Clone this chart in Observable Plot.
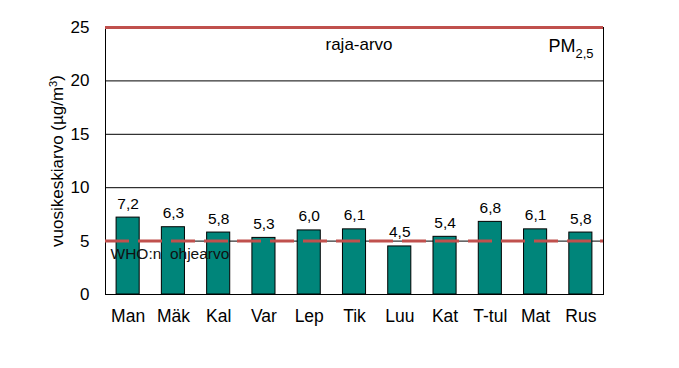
<!DOCTYPE html>
<html>
<head>
<meta charset="utf-8">
<script src="https://cdn.jsdelivr.net/npm/d3@7"></script>
<script src="https://cdn.jsdelivr.net/npm/@observablehq/plot@0.6"></script>
<style>
  html, body { margin: 0; padding: 0; background: #fff; }
  svg { font-family: "Liberation Sans", Arial, sans-serif; }
</style>
</head>
<body>
<div id="chart"></div>
<script>
const stations = ["Man", "Mäk", "Kal", "Var", "Lep", "Tik", "Luu", "Kat", "T-tul", "Mat", "Rus"];
const values = [7.2, 6.3, 5.8, 5.3, 6.0, 6.1, 4.5, 5.4, 6.8, 6.1, 5.8];
const yTicks = [0, 5, 10, 15, 20, 25];
const gridLines = [5, 10, 15, 20];
const limitValue = [25];
const whoGuideline = [5];

const data = stations.map((s, i) => ({station: s, value: values[i]}));
const fmt = v => v.toFixed(1).replace(".", ",");

const red = "#c0504d";
const teal = "#00857a";

const plot = Plot.plot({
  width: 679,
  height: 368,
  marginLeft: 105,
  marginRight: 76,
  marginTop: 27,
  marginBottom: 74,
  style: {fontFamily: "'Liberation Sans', Arial, sans-serif", background: "#fff", color: "#000"},
  x: {domain: stations, paddingInner: 0.49, paddingOuter: 0.245, round: false, label: null},
  y: {domain: [0, 25], label: null},
  marks: [
    Plot.ruleY(gridLines, {stroke: "#000", strokeWidth: 1}),
    Plot.frame({stroke: "#000", strokeWidth: 1}),
    Plot.barY(data, {x: "station", y: "value", fill: teal, stroke: "#000", strokeWidth: 1}),
    Plot.ruleY(whoGuideline, {stroke: red, strokeWidth: 3, strokeDasharray: "24,9"}),
    Plot.ruleY(limitValue, {stroke: red, strokeWidth: 3}),
    Plot.text(data, {x: "station", y: "value", text: d => fmt(d.value), dy: -14, fontSize: 15.5, fill: "#000"}),
    Plot.text(["WHO:n  ohjearvo"], {frameAnchor: "bottom-left", dx: 5, dy: -40, textAnchor: "start", lineAnchor: "middle", fontSize: 15.5, fill: "#111", style: "white-space:pre"}),
    Plot.text(["raja-arvo"], {frameAnchor: "top-left", dx: 220, dy: 17, textAnchor: "start", lineAnchor: "middle", fontSize: 17, fill: "#000"}),
    Plot.text(["PM"], {frameAnchor: "top-right", dx: -10, dy: 19, textAnchor: "end", lineAnchor: "middle", fontSize: 18, fill: "#000", className: "pmlabel"}),
    Plot.axisX({tickSize: 0, tickPadding: 15, fontSize: 17.5, label: null}),
    Plot.axisY({ticks: yTicks, tickSize: 0, tickPadding: 16, fontSize: 17, label: "vuosikeskiarvo (µg/m³)", labelArrow: "none", labelAnchor: "center", labelOffset: 55})
  ]
});

document.getElementById("chart").appendChild(plot);

// subscript for PM2,5
const pm = d3.select(plot).select(".pmlabel text");
if (!pm.empty()) {
  const t = pm.text();
  pm.text(null);
  pm.append("tspan").text(t);
  pm.append("tspan").attr("font-size", 13).attr("dy", "0.45em").text("2,5");
  pm.attr("text-anchor", "end");
}
// y-axis label: superscript 3 and font
d3.select(plot).selectAll("[aria-label='y-axis label'] text").each(function() {
  const el = d3.select(this);
  el.attr("font-size", 17);
  el.text(null);
  el.append("tspan").text("vuosikeskiarvo (µg/m");
  el.append("tspan").attr("font-size", 11).attr("dy", "-0.55em").text("3");
  el.append("tspan").attr("dy", "0.35em").text(")");
});
</script>
</body>
</html>
